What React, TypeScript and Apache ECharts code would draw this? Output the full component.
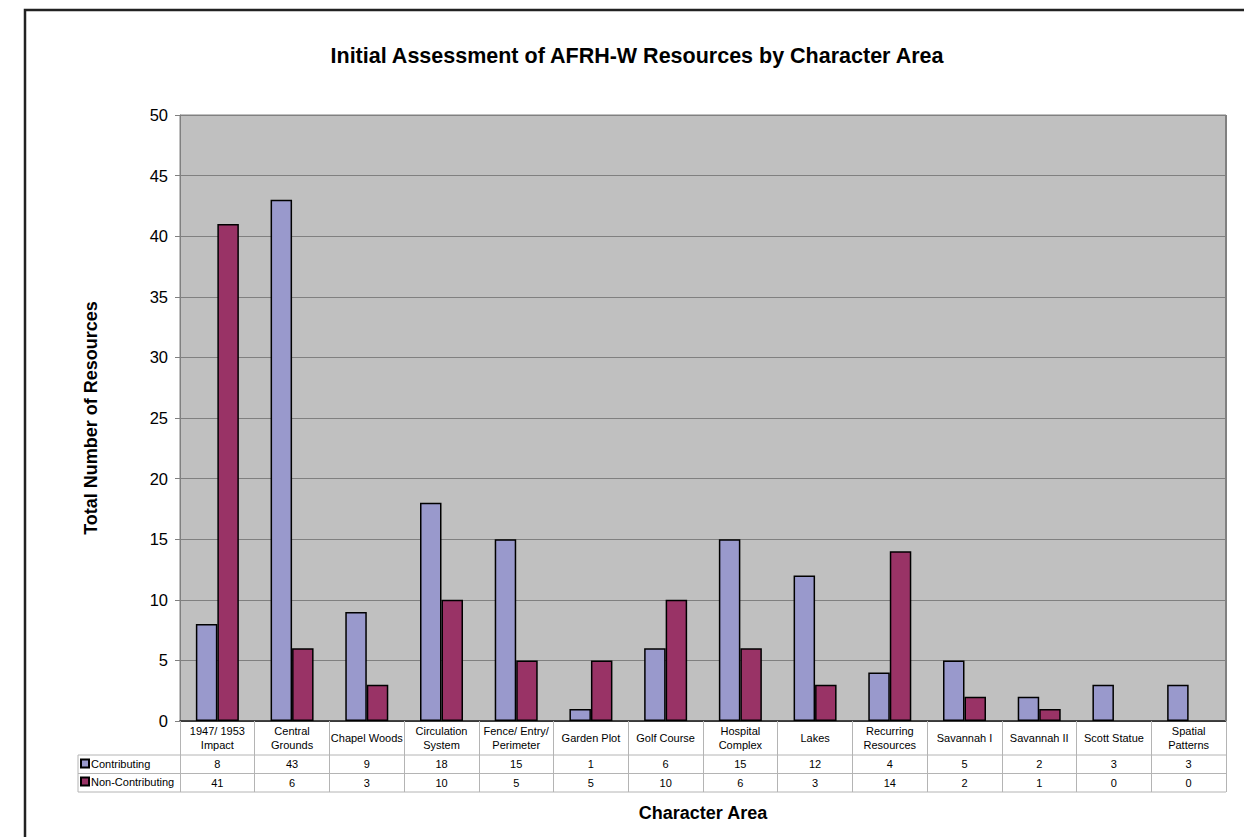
import React, { useEffect, useRef } from "react";
import * as echarts from "echarts";

const categories = [
  "1947/ 1953\nImpact",
  "Central\nGrounds",
  "Chapel Woods",
  "Circulation\nSystem",
  "Fence/ Entry/\nPerimeter",
  "Garden Plot",
  "Golf Course",
  "Hospital\nComplex",
  "Lakes",
  "Recurring\nResources",
  "Savannah I",
  "Savannah II",
  "Scott Statue",
  "Spatial\nPatterns",
];
const contributing = [8, 43, 9, 18, 15, 1, 6, 15, 12, 4, 5, 2, 3, 3];
const nonContributing = [41, 6, 3, 10, 5, 5, 10, 6, 3, 14, 2, 1, 0, 0];
const seriesNames = ["Contributing", "Non-Contributing"];
const yTicks = { min: 0, max: 50, interval: 5 };

const FONT = "Arial, 'Liberation Sans', Helvetica, sans-serif";

export default function App() {
  const ref = useRef<HTMLDivElement>(null);
  useEffect(() => {
    if (!ref.current) return;
    const chart = echarts.init(ref.current, null, { renderer: "svg" });
    const gridLeft = 180, gridTop = 115, gridRight = 1226, gridBottom = 721;
    const tableLine = "#b4b4b4";
    const rowY1 = 755, rowY2 = 773.5, rowY3 = 792, legendX = 78;
    const tableAxis = (data: number[], margin: number) => ({
      type: "category",
      data: categories,
      position: "bottom",
      gridIndex: 0,
      axisLine: { show: false },
      axisTick: { show: false },
      splitLine: { show: false },
      axisLabel: {
        interval: 0,
        margin,
        fontSize: 11,
        fontFamily: FONT,
        color: "#000",
        verticalAlign: "middle",
        formatter: (_v: string, i: number) => String(data[i]),
      },
    });
    const barData = (arr: number[]) =>
      arr.map((v) => (v === 0 ? { value: v, itemStyle: { borderWidth: 0 } } : v));
    chart.setOption({
      animation: false,
      backgroundColor: "#fff",
      textStyle: { fontFamily: FONT },
      title: {
        text: "Initial Assessment of AFRH-W Resources by Character Area",
        left: 637,
        textAlign: "center",
        top: 45,
        padding: 0,
        textStyle: { fontSize: 21.5, fontWeight: "bold", color: "#000", fontFamily: FONT },
      },
      legend: {
        orient: "vertical",
        left: 80,
        top: 758,
        itemWidth: 8,
        itemHeight: 8,
        itemGap: 7,
        icon: "rect",
        padding: 0,
        textStyle: { fontSize: 11, color: "#000", fontFamily: FONT, padding: [0, 0, 0, -3] },
        data: seriesNames,
      },
      grid: {
        left: gridLeft,
        top: gridTop,
        width: gridRight - gridLeft,
        height: gridBottom - gridTop,
        show: true,
        backgroundColor: "#C0C0C0",
        borderColor: "#808080",
        borderWidth: 1,
        containLabel: false,
      },
      xAxis: [
        {
          type: "category",
          data: categories,
          position: "bottom",
          boundaryGap: true,
          name: "Character Area",
          nameLocation: "middle",
          nameGap: 83,
          nameTextStyle: { fontSize: 18, fontWeight: "bold", color: "#000", fontFamily: FONT, verticalAlign: "top" },
          axisLine: { show: true, lineStyle: { color: "#222", width: 1.5 } },
          axisTick: { show: true, interval: 0, length: rowY3 - gridBottom, lineStyle: { color: tableLine, width: 1 } },
          axisLabel: {
            interval: 0,
            margin: 17,
            fontSize: 11,
            lineHeight: 14,
            fontFamily: FONT,
            color: "#000",
            verticalAlign: "middle",
          },
        },
        tableAxis(contributing, 43),
        tableAxis(nonContributing, 62),
      ],
      yAxis: {
        type: "value",
        min: yTicks.min,
        max: yTicks.max,
        interval: yTicks.interval,
        name: "Total Number of Resources",
        nameLocation: "middle",
        nameRotate: 90,
        nameGap: 80,
        nameTextStyle: { fontSize: 18, fontWeight: "bold", color: "#000", fontFamily: FONT },
        axisLine: { show: true, lineStyle: { color: "#808080", width: 1 } },
        axisTick: { show: true, length: 5, lineStyle: { color: "#808080" } },
        axisLabel: { fontSize: 16.5, color: "#000", margin: 12, fontFamily: FONT },
        splitLine: { show: true, lineStyle: { color: "#808080", width: 1 } },
      },
      series: [
        {
          name: seriesNames[0],
          type: "bar",
          data: barData(contributing),
          barWidth: 21.5,
          barGap: "0%",
          itemStyle: { color: "#9999CC", borderColor: "#000", borderWidth: 1.5 },
        },
        {
          name: seriesNames[1],
          type: "bar",
          data: barData(nonContributing),
          barWidth: 21.5,
          barGap: "0%",
          itemStyle: { color: "#993366", borderColor: "#000", borderWidth: 1.5 },
        },
      ],
      graphic: [
        {
          type: "rect",
          shape: { x: 25, y: 10, width: 1240, height: 900 },
          style: { fill: "none", stroke: "#222", lineWidth: 2.5 },
          silent: true,
          z: 100,
        },
        {
          type: "line",
          shape: { x1: gridRight, y1: gridTop, x2: gridRight, y2: gridBottom },
          style: { stroke: "#808080", lineWidth: 2 },
          silent: true,
          z: 50,
        },
        ...[rowY1, rowY2, rowY3].map((y) => ({
          type: "line",
          shape: { x1: legendX, y1: y, x2: gridRight, y2: y },
          style: { stroke: tableLine, lineWidth: 1 },
          silent: true,
        })),
        {
          type: "line",
          shape: { x1: legendX, y1: rowY1, x2: legendX, y2: rowY3 },
          style: { stroke: tableLine, lineWidth: 1 },
          silent: true,
        },
      ],
    });
    return () => chart.dispose();
  }, []);
  return (
    <div
      ref={ref}
      style={{ position: "fixed", left: 0, top: 0, width: 1244, height: 837, background: "#fff" }}
    />
  );
}
